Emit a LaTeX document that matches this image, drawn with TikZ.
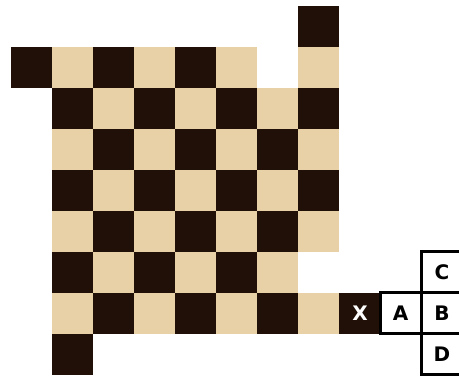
\documentclass[tikz,border=0pt]{standalone}
\usepackage{fontspec}
\setmainfont{DejaVu Sans}
\definecolor{darksq}{HTML}{201008}
\definecolor{lightsq}{HTML}{E8D1A7}
\begin{document}
\begin{tikzpicture}[x=1pt,y=-1pt,
  lbl/.style={font=\fontsize{20}{20}\selectfont\bfseries, inner sep=0},
  frame/.style={draw=black, line width=3pt, fill=white}]
\useasboundingbox (0,0) rectangle (459,377);
\clip (0,0) rectangle (459,377);
\foreach \r/\cs in {0/{7},1/{0,1,2,3,4,5,7},2/{1,2,3,4,5,6,7},3/{1,2,3,4,5,6,7},4/{1,2,3,4,5,6,7},5/{1,2,3,4,5,6,7},6/{1,2,3,4,5,6},7/{1,2,3,4,5,6,7,8},8/{1}}{
  \foreach \c in \cs {
    \pgfmathtruncatemacro\p{mod(\r+\c,2)}
    \ifnum\p=1 \def\sqcol{darksq}\else\def\sqcol{lightsq}\fi
    \fill[\sqcol] ({11+41*\c},{6+41*\r}) rectangle ++(41,41);
  }
}
% frames
\draw[frame] (380,293) rectangle ++(41,41);
\draw[frame] (421,293) rectangle ++(41,41);
\draw[frame] (421,252) rectangle ++(41,41);
\draw[frame] (421,334) rectangle ++(41,41);
\node[lbl, text=white] (x) at (360,313.5) {X};
\node[lbl] (a) at (400.5,313.5) {A};
\node[lbl] (b) at (442,313.5) {B};
\node[lbl] (c) at (442,272.5) {C};
\node[lbl] (d) at (442,354.5) {D};
\end{tikzpicture}
\end{document}
